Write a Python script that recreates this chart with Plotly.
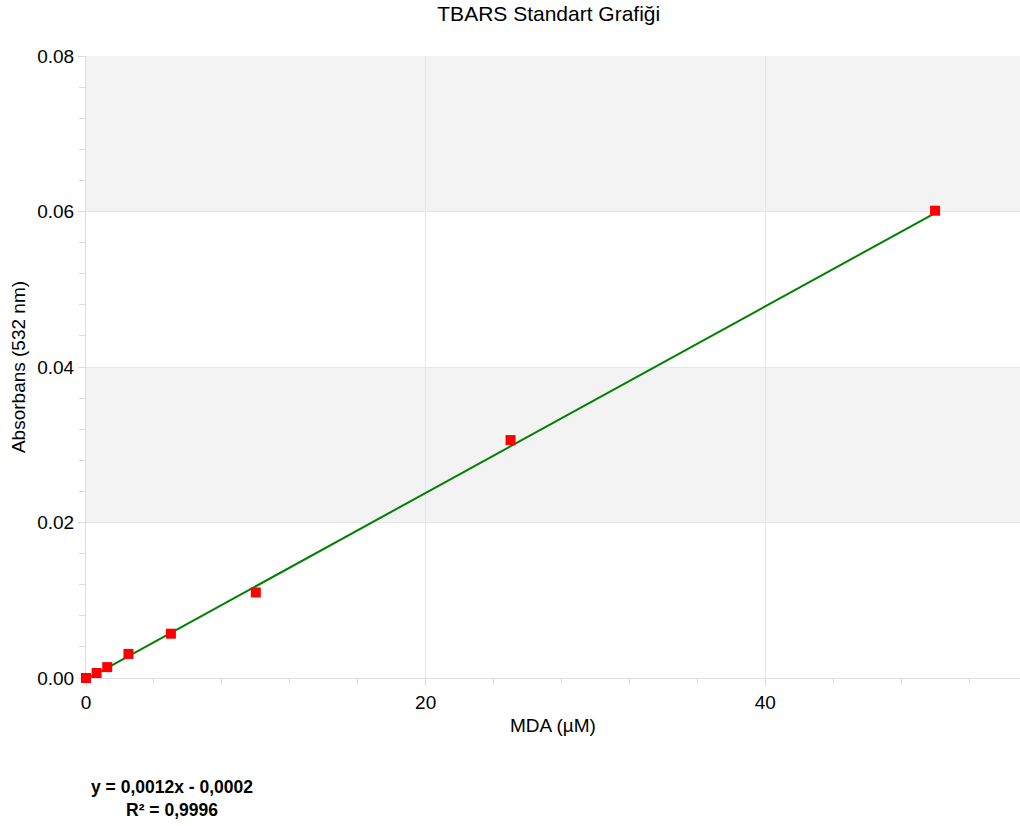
import plotly.graph_objects as go

mda = [0, 0.625, 1.25, 2.5, 5, 10, 25, 50]
absorbance = [0.0, 0.00064, 0.0014, 0.0031, 0.0057, 0.0110, 0.0306, 0.0601]
slope = 0.0012
intercept = -0.0002
fit_x = [0, 50]
fit_y = [slope * v + intercept for v in fit_x]
band_ranges = [(0.02, 0.04), (0.06, 0.08)]

FONT = "Liberation Sans, Arial, sans-serif"

fig = go.Figure()
fig.add_trace(go.Scatter(x=fit_x, y=fit_y, mode="lines", cliponaxis=False,
                         line=dict(color="#008000", width=2), showlegend=False))
fig.add_trace(go.Scatter(x=mda, y=absorbance, mode="markers", cliponaxis=False,
                         marker=dict(symbol="square", size=10, color="#ff0000",
                                     line=dict(width=0)), showlegend=False))

for y0, y1 in band_ranges:
    fig.add_shape(type="rect", xref="paper", yref="y", x0=0, x1=1, y0=y0, y1=y1,
                  fillcolor="#f3f3f3", line=dict(width=0), layer="below")

fig.update_layout(
    width=1020, height=826,
    margin=dict(l=86, r=0, t=56, b=148),
    paper_bgcolor="white", plot_bgcolor="white",
    font=dict(family=FONT, color="#000000"),
    title=dict(text="TBARS Standart Grafiği", x=0.538, xanchor="center",
               y=0.983, yanchor="middle", font=dict(size=21)),
    annotations=[dict(text="<b>y = 0,0012x - 0,0002</b><br><b>R² = 0,9996</b>",
                      xref="paper", yref="paper", x=0.092, y=-0.1945,
                      xanchor="center", yanchor="middle", showarrow=False, align="center",
                      font=dict(size=17.5))],
)
fig.update_xaxes(range=[0, 55], tickvals=[0, 20, 40], ticktext=["0", "20", "40"],
                 showgrid=True, gridcolor="#e6e6e6", gridwidth=1,
                 showline=True, linecolor="#dcdcdc", linewidth=1,
                 ticks="outside", ticklen=7, tickcolor="#dcdcdc",
                 tickfont=dict(size=19), zeroline=False, layer="below traces",
                 minor=dict(tickvals=[4, 8, 12, 16, 24, 28, 32, 36, 44, 48, 52],
                            ticks="outside", ticklen=6, tickcolor="#dcdcdc", showgrid=False),
                 title=dict(text="MDA (µM)", font=dict(size=19), standoff=6))
fig.update_yaxes(range=[0, 0.08], tickvals=[0, 0.02, 0.04, 0.06, 0.08],
                 ticktext=["0.00", "0.02", "0.04", "0.06", "0.08"],
                 showgrid=True, gridcolor="#e6e6e6", gridwidth=1,
                 showline=True, linecolor="#dcdcdc", linewidth=1,
                 ticks="outside", ticklen=7, tickcolor="#dcdcdc",
                 tickfont=dict(size=19), zeroline=False, layer="below traces",
                 minor=dict(dtick=0.004, ticks="outside", ticklen=6,
                            tickcolor="#dcdcdc", showgrid=False),
                 title=dict(text="Absorbans (532 nm)", font=dict(size=19), standoff=6))

fig.write_html("out.html")
